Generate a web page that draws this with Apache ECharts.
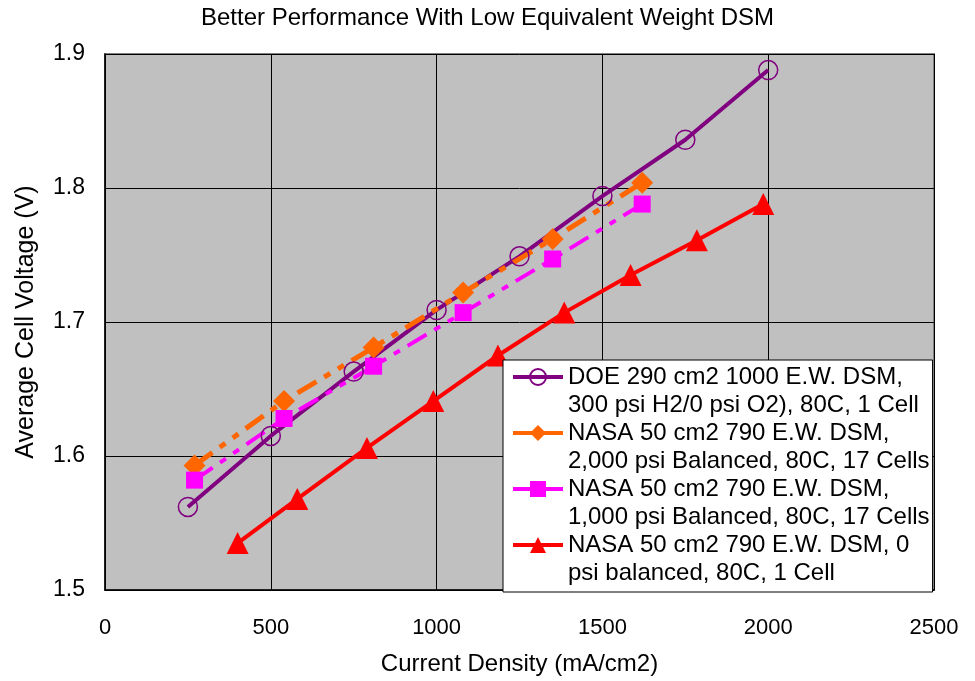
<!DOCTYPE html>
<html><head><meta charset="utf-8">
<script src="https://cdn.jsdelivr.net/npm/echarts@6/dist/echarts.min.js"></script>
<style>html,body{margin:0;padding:0;background:#fff}#c{width:975px;height:681px}</style>
</head><body><div id="c"></div>
<script>
const titleText = 'Better Performance With Low Equivalent Weight DSM';
const xAxisName = 'Current Density (mA/cm2)';
const yAxisName = 'Average Cell Voltage (V)';
const xTicks = [0, 500, 1000, 1500, 2000, 2500];
const yTicks = [1.5, 1.6, 1.7, 1.8, 1.9];
const seriesNames = [
  'DOE 290 cm2 1000 E.W. DSM,\n300 psi H2/0 psi O2), 80C, 1 Cell',
  'NASA 50 cm2 790 E.W. DSM,\n2,000 psi Balanced, 80C, 17 Cells',
  'NASA 50 cm2 790 E.W. DSM,\n1,000 psi Balanced, 80C, 17 Cells',
  'NASA 50 cm2 790 E.W. DSM, 0\npsi balanced, 80C, 1 Cell'
];
const doeX = [250, 500, 750, 1000, 1250, 1500, 1750, 2000];
const doeY = [1.562, 1.615, 1.663, 1.709, 1.749, 1.794, 1.836, 1.888];
const nasa2000X = [270, 540, 810, 1080, 1350, 1620];
const nasa2000Y = [1.593, 1.641, 1.681, 1.722, 1.762, 1.804];
const nasa1000X = [270, 540, 810, 1080, 1350, 1620];
const nasa1000Y = [1.582, 1.628, 1.667, 1.707, 1.747, 1.788];
const nasa0X = [400, 580, 790, 990, 1185, 1385, 1585, 1785, 1985];
const nasa0Y = [1.535, 1.568, 1.606, 1.641, 1.675, 1.707, 1.735, 1.761, 1.788];

function pairs(xs, ys) { return xs.map((x, i) => [x, ys[i]]); }
const FONT = 'Liberation Sans, Arial, sans-serif';

const chart = echarts.init(document.getElementById('c'), null, {renderer: 'canvas'});
chart.setOption({
  animation: false,
  backgroundColor: '#fff',
  textStyle: {fontFamily: FONT},
  title: {
    text: titleText, left: 'center', top: 6, padding: 0,
    textStyle: {fontFamily: FONT, fontSize: 24, fontWeight: 'normal', color: '#000'}
  },
  grid: {
    left: 105, right: 41, top: 54, bottom: 89,
    show: true, backgroundColor: '#C0C0C0', borderColor: '#808080', borderWidth: 2
  },
  xAxis: {
    type: 'value', min: xTicks[0], max: xTicks[xTicks.length - 1], interval: xTicks[1] - xTicks[0],
    name: xAxisName, nameLocation: 'middle', nameGap: 62,
    nameTextStyle: {fontFamily: FONT, fontSize: 24, color: '#000'},
    axisLine: {show: true, onZero: false, lineStyle: {color: '#000', width: 1.5}},
    axisTick: {show: false},
    axisLabel: {margin: 27, fontSize: 22, color: '#000', fontFamily: FONT, formatter: v => String(v)},
    splitLine: {show: true, lineStyle: {color: '#000', width: 1}}
  },
  yAxis: {
    type: 'value', min: yTicks[0], max: yTicks[yTicks.length - 1], interval: 0.1,
    name: yAxisName, nameLocation: 'middle', nameGap: 66,
    nameTextStyle: {fontFamily: FONT, fontSize: 25, color: '#000'},
    axisLine: {show: true, lineStyle: {color: '#000', width: 1.5}},
    axisTick: {show: false},
    axisLabel: {margin: 20, fontSize: 23, color: '#000', fontFamily: FONT, formatter: v => v.toFixed(1)},
    splitLine: {show: true, lineStyle: {color: '#000', width: 1}}
  },
  legend: {
    orient: 'vertical', left: 503, top: 360,
    padding: [-25, 3, 5, 8],
    backgroundColor: '#fff', borderColor: '#000', borderWidth: 1,
    itemWidth: 50, itemHeight: 20, itemGap: -28,
    selectedMode: false,
    formatter: n => '\n' + n,
    textStyle: {fontFamily: FONT, fontSize: 24, lineHeight: 28, color: '#000'},
    lineStyle: {type: 'solid', width: 4},
    data: seriesNames
  },
  series: [
    {
      name: seriesNames[0], type: 'line', data: pairs(doeX, doeY),
      symbol: 'circle', symbolSize: 19, showAllSymbol: true,
      lineStyle: {color: '#800080', width: 4},
      itemStyle: {color: 'rgba(0,0,0,0)', borderColor: '#800080', borderWidth: 1.5},
      emphasis: {disabled: true}
    },
    {
      name: seriesNames[1], type: 'line', data: pairs(nasa2000X, nasa2000Y),
      symbol: 'diamond', symbolSize: 22, showAllSymbol: true,
      lineStyle: {color: '#FF6600', width: 5, type: [22, 9, 7, 9, 7, 9]},
      itemStyle: {color: '#FF6600'},
      emphasis: {disabled: true}
    },
    {
      name: seriesNames[2], type: 'line', data: pairs(nasa1000X, nasa1000Y),
      symbol: 'rect', symbolSize: 17, showAllSymbol: true,
      lineStyle: {color: '#FF00FF', width: 4, type: [22, 9, 7, 9, 7, 9]},
      itemStyle: {color: '#FF00FF'},
      emphasis: {disabled: true}
    },
    {
      name: seriesNames[3], type: 'line', data: pairs(nasa0X, nasa0Y),
      symbol: 'triangle', symbolSize: 22, showAllSymbol: true,
      lineStyle: {color: '#FF0000', width: 4},
      itemStyle: {color: '#FF0000'},
      emphasis: {disabled: true}
    }
  ]
});
</script>
</body></html>
